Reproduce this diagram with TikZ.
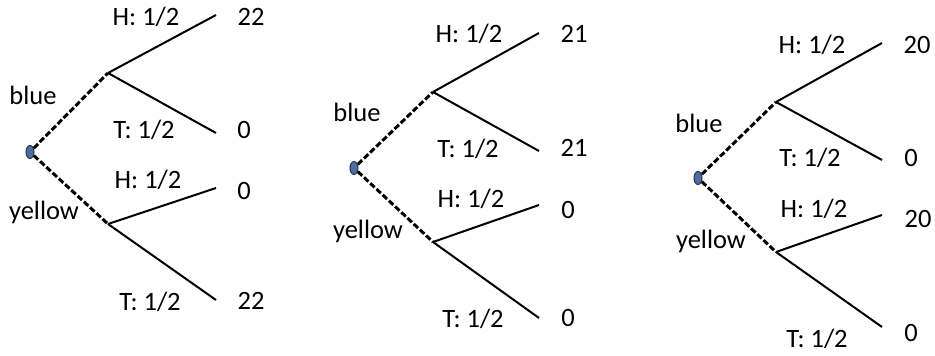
\documentclass[tikz,border=0pt]{standalone}
\usepackage{fontspec}
\setmainfont{Carlito}
\usepackage{xcolor}
\usetikzlibrary{shapes,positioning}

\definecolor{rootblue}{RGB}{79,110,160}
\definecolor{rootedge}{RGB}{35,50,80}

\begin{document}
\begin{tikzpicture}[
    x=1pt, y=-1pt,
    root/.style={ellipse, draw=rootedge, line width=1pt, fill=rootblue, minimum width=8pt, minimum height=13pt, inner sep=0pt},
    choice/.style={line width=3pt, dash pattern=on 6pt off 2.5pt},
    branch/.style={line width=2pt},
    lbl/.style={font=\fontsize{26.5}{30}\selectfont, inner sep=0pt}
]
\useasboundingbox (0,0) rectangle (935,356);

% first tree
\node[root] (r1) at (30,152) {};
\coordinate (b1) at (108,73);
\coordinate (y1) at (108,224);
\coordinate (bh1) at (216,15);
\coordinate (bt1) at (216,133);
\coordinate (yh1) at (216,188);
\coordinate (yt1) at (216,300);

\draw[choice] (r1) -- (b1);
\draw[choice] (r1) -- (y1);
\draw[branch] (b1) -- (bh1);
\draw[branch] (b1) -- (bt1);
\draw[branch] (y1) -- (yh1);
\draw[branch] (y1) -- (yt1);

\node[lbl] (blue1) at (33,95) {blue};
\node[lbl] (yellow1) at (44,212) {yellow};
\node[lbl] (pbh1) at (146,17) {H: 1/2};
\node[lbl] (pbt1) at (144,130) {T: 1/2};
\node[lbl] (pyh1) at (148,180) {H: 1/2};
\node[lbl] (pyt1) at (150,302) {T: 1/2};
\node[lbl] (vbh1) at (251,17) {22};
\node[lbl] (vbt1) at (244,130) {0};
\node[lbl] (vyh1) at (244,191) {0};
\node[lbl] (vyt1) at (251,301) {22};

% second tree
\node[root] (r2) at (354,168) {};
\coordinate (b2) at (433,92);
\coordinate (y2) at (433,242);
\coordinate (bh2) at (539,33);
\coordinate (bt2) at (539,151);
\coordinate (yh2) at (539,205);
\coordinate (yt2) at (539,318);

\draw[choice] (r2) -- (b2);
\draw[choice] (r2) -- (y2);
\draw[branch] (b2) -- (bh2);
\draw[branch] (b2) -- (bt2);
\draw[branch] (y2) -- (yh2);
\draw[branch] (y2) -- (yt2);

\node[lbl] (blue2) at (357,112) {blue};
\node[lbl] (yellow2) at (368,231) {yellow};
\node[lbl] (pbh2) at (469,34) {H: 1/2};
\node[lbl] (pbt2) at (468,149) {T: 1/2};
\node[lbl] (pyh2) at (471,199) {H: 1/2};
\node[lbl] (pyt2) at (473,319) {T: 1/2};
\node[lbl] (vbh2) at (574,34) {21};
\node[lbl] (vbt2) at (574,148) {21};
\node[lbl] (vyh2) at (568,210) {0};
\node[lbl] (vyt2) at (568,318) {0};

% third tree
\node[root] (r3) at (698,178) {};
\coordinate (b3) at (776,102);
\coordinate (y3) at (776,252);
\coordinate (bh3) at (882,43);
\coordinate (bt3) at (882,160);
\coordinate (yh3) at (882,215);
\coordinate (yt3) at (882,327);

\draw[choice] (r3) -- (b3);
\draw[choice] (r3) -- (y3);
\draw[branch] (b3) -- (bh3);
\draw[branch] (b3) -- (bt3);
\draw[branch] (y3) -- (yh3);
\draw[branch] (y3) -- (yt3);

\node[lbl] (blue3) at (699,123) {blue};
\node[lbl] (yellow3) at (711,241) {yellow};
\node[lbl] (pbh3) at (812,45) {H: 1/2};
\node[lbl] (pbt3) at (810,158) {T: 1/2};
\node[lbl] (pyh3) at (814,209) {H: 1/2};
\node[lbl] (pyt3) at (817,339) {T: 1/2};
\node[lbl] (vbh3) at (917,45) {20};
\node[lbl] (vbt3) at (911,158) {0};
\node[lbl] (vyh3) at (918,219) {20};
\node[lbl] (vyt3) at (911,333) {0};

\end{tikzpicture}
\end{document}
